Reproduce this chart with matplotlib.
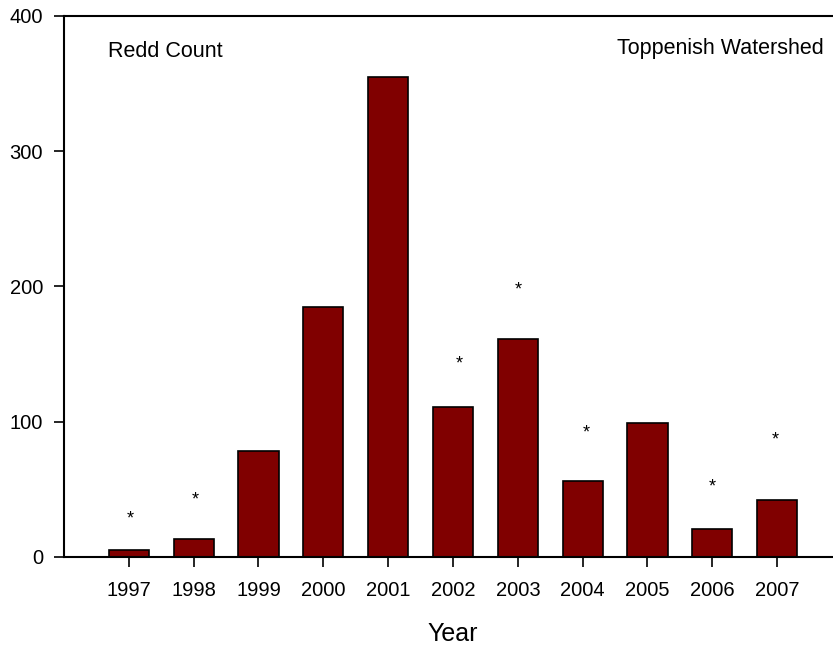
import matplotlib
matplotlib.use("Agg")
import matplotlib.pyplot as plt

years = [1997, 1998, 1999, 2000, 2001, 2002, 2003, 2004, 2005, 2006, 2007]
redds = [5, 13, 78, 185, 355, 111, 161, 56, 99, 21, 42]
star_years = [1997.02, 1998.02, 2002.09, 2003.0, 2004.06, 2006.0, 2006.97]
star_vals = [31, 45, 145, 200, 94, 54, 89]

plt.rcParams["font.family"] = ["Liberation Sans", "DejaVu Sans"]

fig = plt.figure(figsize=(8.33, 6.49), dpi=100)
ax = fig.add_axes([0.0768, 0.1418, 0.934, 0.8336])

ax.bar(years, redds, width=0.62, color="#800000", edgecolor="black", linewidth=1.2)
# asterisk glyph sits high in its box, nudge it down a little
for x, y in zip(star_years, star_vals):
    ax.annotate("*", (x, y), xytext=(0, -2.5), textcoords="offset points",
                ha="center", va="center", fontsize=13)

ax.set_xlim(1996, 2008)
ax.set_ylim(0, 400)
ax.set_xticks(years)
ax.set_yticks([0, 100, 200, 300, 400])
ax.tick_params(axis="x", length=7, width=1.2, labelsize=14.5, pad=10)
ax.tick_params(axis="y", length=7, width=1.2, labelsize=14.5, pad=8)
for s in ax.spines.values():
    s.set_linewidth(1.5)

ax.set_xlabel("Year", fontsize=18, labelpad=16)
ax.text(0.057, 0.934, "Redd Count", transform=ax.transAxes, fontsize=15.5, va="center")
ax.text(2007.72, 376, "Toppenish Watershed", fontsize=15.5, ha="right", va="center")

fig.savefig("out.png", dpi=100)
